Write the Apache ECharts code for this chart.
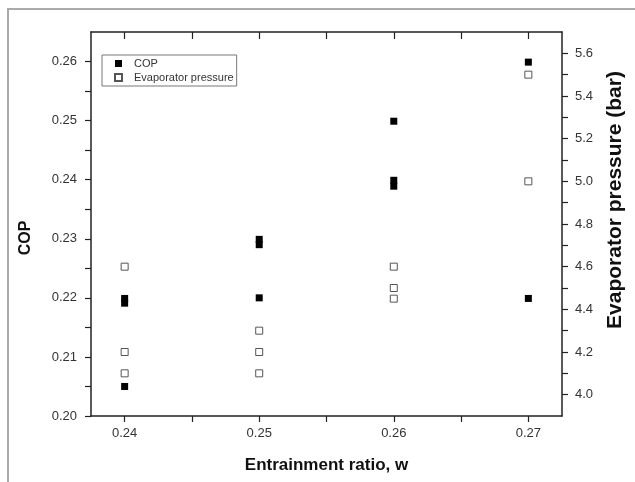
<!DOCTYPE html>
<html>
<head>
<meta charset="utf-8">
<title>COP and evaporator pressure vs entrainment ratio</title>
<script src="https://cdn.jsdelivr.net/npm/echarts@6.0.0/dist/echarts.min.js"></script>
<style>
  html, body { margin: 0; padding: 0; background: #fff; }
  .box { position: relative; width: 635px; height: 482px; }
  /* 掃描圖外框 */
  .box::before {
    content: '';
    position: absolute;
    left: 7px; top: 8px; right: 0; bottom: 0;
    border-left: 2px solid #aaa;
    border-top: 2px solid #aaa;
    pointer-events: none;
    z-index: 2;
  }
  #chart { width: 635px; height: 482px; }
</style>
</head>
<body>
<div class="box">
  <div id="chart"></div>
</div>
<script>
// -------------- data --------------
const copRatio = [0.24, 0.24, 0.24, 0.25, 0.25, 0.25, 0.26, 0.26, 0.26, 0.27, 0.27]
const copValues = [0.2199, 0.2191, 0.2050, 0.2299, 0.2290, 0.2200, 0.2499, 0.2399, 0.2389, 0.2599, 0.2199]

const pressureRatio = [0.24, 0.24, 0.24, 0.25, 0.25, 0.25, 0.26, 0.26, 0.26, 0.27, 0.27]
const pressureValues = [4.6, 4.2, 4.1, 4.3, 4.2, 4.1, 4.6, 4.5, 4.45, 5.5, 5.0]

// tick labels / tick positions
const ratioLabels = [0.24, 0.25, 0.26, 0.27]
const ratioTicks = [0.24, 0.245, 0.25, 0.255, 0.26, 0.265, 0.27]
const copLabels = [0.20, 0.21, 0.22, 0.23, 0.24, 0.25, 0.26]
const copTicks = [0.20, 0.205, 0.21, 0.215, 0.22, 0.225, 0.23, 0.235, 0.24, 0.245, 0.25, 0.255, 0.26]
const pressureLabels = [4.0, 4.2, 4.4, 4.6, 4.8, 5.0, 5.2, 5.4, 5.6]
const pressureTicks = [4.0, 4.1, 4.2, 4.3, 4.4, 4.5, 4.6, 4.7, 4.8, 4.9, 5.0, 5.1, 5.2, 5.3, 5.4, 5.5, 5.6]

const axisColor = '#222'
const labelColor = '#333'
const font = 'Arial, "Liberation Sans", sans-serif'

const chart = echarts.init(document.getElementById('chart'))

chart.setOption({
  animation: false,
  backgroundColor: 'transparent',
  textStyle: { fontFamily: font },
  grid: { left: 91, right: 73, top: 32, bottom: 66, containLabel: false },

  legend: {
    left: 102,
    top: 55,
    orient: 'vertical',
    padding: [2, 3, 2, 12],
    itemGap: 1,
    itemWidth: 7,
    itemHeight: 7,
    borderColor: '#777',
    borderWidth: 1,
    textStyle: { fontSize: 11, color: labelColor, lineHeight: 13, padding: [0, 0, 0, 7], fontFamily: font },
    data: [
      { name: 'COP', icon: 'rect' },
      { name: 'Evaporator pressure', icon: 'rect' }
    ]
  },

  xAxis: [
    {
      type: 'value',
      position: 'bottom',
      min: 0.2375,
      max: 0.2725,
      name: 'Entrainment ratio, w',
      nameLocation: 'middle',
      nameGap: 41,
      nameTextStyle: { fontSize: 17, fontWeight: 'bold', color: '#111', fontFamily: font },
      splitLine: { show: false },
      axisLine: { lineStyle: { color: axisColor, width: 1.5 } },
      axisTick: { length: 6, lineStyle: { color: axisColor, width: 1.2 }, customValues: ratioTicks },
      axisLabel: {
        customValues: ratioLabels,
        margin: 11,
        fontSize: 13,
        color: labelColor,
        formatter: (v) => v.toFixed(2)
      }
    },
    {
      // 上方邊框, 刻度向內
      type: 'value',
      position: 'top',
      min: 0.2375,
      max: 0.2725,
      splitLine: { show: false },
      axisLine: { lineStyle: { color: axisColor, width: 1.5 } },
      axisTick: { inside: true, length: 7, lineStyle: { color: axisColor, width: 1.2 }, customValues: ratioTicks },
      axisLabel: { show: false }
    }
  ],

  yAxis: [
    {
      type: 'value',
      position: 'left',
      min: 0.20,
      max: 0.265,
      name: 'COP',
      nameLocation: 'middle',
      nameGap: 57,
      nameRotate: 90,
      nameTextStyle: { fontSize: 16, fontWeight: 'bold', color: '#111', padding: [0, 28, 0, 0], fontFamily: font },
      splitLine: { show: false },
      axisLine: { lineStyle: { color: axisColor, width: 1.5 } },
      axisTick: { length: 6, lineStyle: { color: axisColor, width: 1.2 }, customValues: copTicks },
      axisLabel: {
        customValues: copLabels,
        margin: 14,
        fontSize: 13,
        color: labelColor,
        formatter: (v) => v.toFixed(2)
      }
    },
    {
      type: 'value',
      position: 'right',
      min: 3.9,
      max: 5.7,
      name: 'Evaporator pressure (bar)',
      nameLocation: 'middle',
      nameGap: 43,
      nameRotate: 90,
      nameTextStyle: { fontSize: 21, fontWeight: 'bold', color: '#111', padding: [0, 0, 0, 48], fontFamily: font },
      splitLine: { show: false },
      axisLine: { lineStyle: { color: axisColor, width: 1.5 } },
      axisTick: { length: 6, lineStyle: { color: axisColor, width: 1.2 }, customValues: pressureTicks },
      axisLabel: {
        customValues: pressureLabels,
        margin: 13,
        fontSize: 13,
        color: labelColor,
        formatter: (v) => v.toFixed(1)
      }
    }
  ],

  series: [
    {
      name: 'COP',
      type: 'scatter',
      xAxisIndex: 0,
      yAxisIndex: 0,
      symbol: 'rect',
      symbolSize: 7,
      itemStyle: { color: '#000', opacity: 1 },
      data: copRatio.map((x, i) => [x, copValues[i]])
    },
    {
      name: 'Evaporator pressure',
      type: 'scatter',
      xAxisIndex: 0,
      yAxisIndex: 1,
      symbol: 'rect',
      symbolSize: 7,
      itemStyle: { color: '#fff', borderColor: '#555', borderWidth: 1, opacity: 1 },
      data: pressureRatio.map((x, i) => [x, pressureValues[i]])
    }
  ]
})
</script>
</body>
</html>
